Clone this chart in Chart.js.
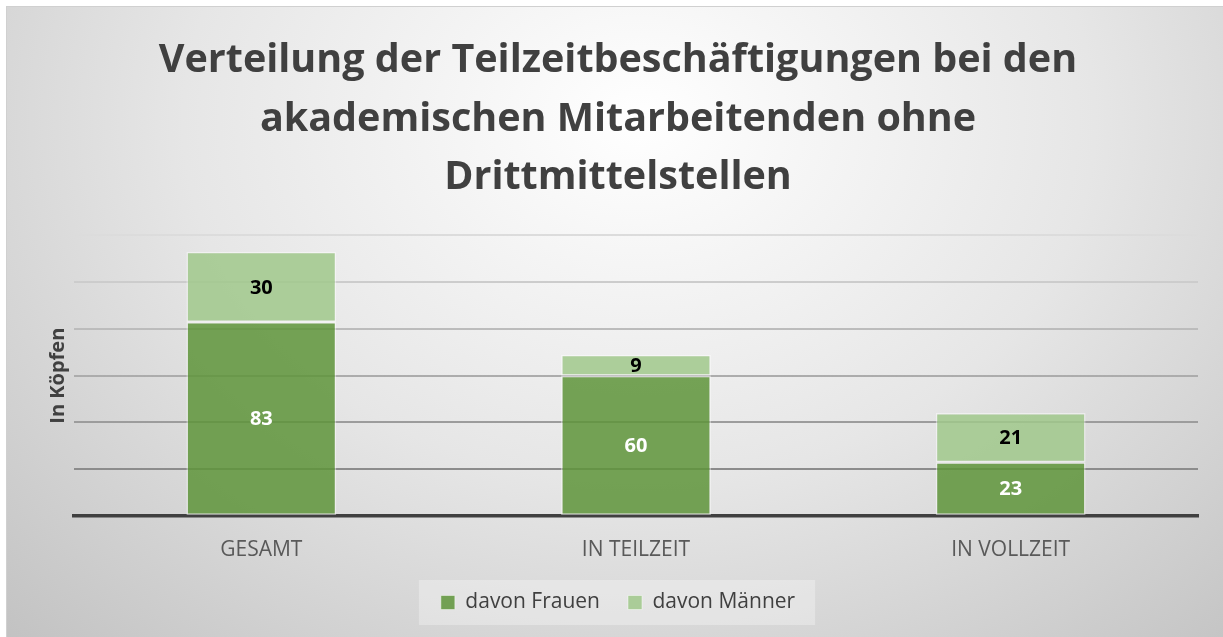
<!DOCTYPE html>
<html>
<head>
<meta charset="utf-8">
<script src="https://cdn.jsdelivr.net/npm/chart.js@4.4.1/dist/chart.umd.min.js"></script>
<style>
  html, body { margin: 0; padding: 0; background: #fff; }
  #panel {
    position: absolute; left: 6px; top: 6px; width: 1217px; height: 631px;
    background: radial-gradient(ellipse 75% 115% at 52% 18%, #ffffff 0%, #e6e6e6 50%, #c2c2c2 100%);
    border-top: 1px solid #d0d0d0; border-left: 1px solid #d0d0d0;
    box-sizing: border-box;
  }
  canvas { display: block; }
</style>
</head>
<body>
<div id="panel"><canvas id="chart" width="1216" height="630"></canvas></div>
<script>
// data
const categories = ['GESAMT', 'IN TEILZEIT', 'IN VOLLZEIT'];
const frauen = [83, 60, 23];
const maenner = [30, 9, 21];
const seriesNames = ['davon Frauen', 'davon Männer'];
const titleLines = ['Verteilung der Teilzeitbeschäftigungen bei den', 'akademischen Mitarbeitenden ohne', 'Drittmittelstellen'];
const yTitle = 'In Köpfen';

const FONT = "'Open Sans', 'DejaVu Sans', sans-serif";
const TEXT = '#404040';

// values in the middle of each segment
const segmentLabels = {
    id: 'segmentLabels',
    afterDatasetsDraw(chart) {
        const ctx = chart.ctx;
        ctx.save();
        ctx.font = 'bold 20px ' + FONT;
        ctx.textAlign = 'center';
        ctx.textBaseline = 'middle';
        chart.data.datasets.forEach((ds, i) => {
            const meta = chart.getDatasetMeta(i);
            meta.data.forEach((bar, j) => {
                ctx.fillStyle = i === 0 ? '#ffffff' : '#000000';
                ctx.fillText(ds.data[j], bar.x, (bar.y + bar.base) / 2 + 1);
            });
        });
        ctx.restore();
    }
};

// light box behind the legend
const legendBox = {
    id: 'legendBox',
    beforeDraw(chart) {
        const boxes = chart.legend && chart.legend.legendHitBoxes;
        if (!boxes || !boxes.length) return;
        const left = Math.min(...boxes.map(b => b.left)) - 22;
        const right = Math.max(...boxes.map(b => b.left + b.width)) + 20;
        const top = Math.min(...boxes.map(b => b.top)) - 12;
        const bottom = Math.max(...boxes.map(b => b.top + b.height)) + 12;
        const ctx = chart.ctx;
        ctx.save();
        ctx.fillStyle = 'rgba(255,255,255,0.3)';
        ctx.fillRect(left, top, right - left, bottom - top);
        ctx.restore();
    }
};

new Chart(document.getElementById('chart'), {
    type: 'bar',
    data: {
        labels: categories,
        datasets: [{
            label: seriesNames[0],
            data: frauen,
            backgroundColor: 'rgba(94,148,57,0.85)',
            borderColor: 'rgba(255,255,255,0.45)',
            borderWidth: 1.5,
            borderSkipped: false,
            categoryPercentage: 0.4,
            barPercentage: 1.0
        }, {
            label: seriesNames[1],
            data: maenner,
            backgroundColor: 'rgba(160,200,139,0.85)',
            borderColor: 'rgba(255,255,255,0.45)',
            borderWidth: 1.5,
            borderSkipped: false,
            categoryPercentage: 0.4,
            barPercentage: 1.0
        }]
    },
    options: {
        responsive: false,
        animation: false,
        layout: { padding: { left: 31, right: 25, top: 0, bottom: 14 } },
        plugins: {
            title: {
                display: true,
                text: titleLines,
                color: TEXT,
                font: { family: FONT, size: 39.5, weight: 'bold', lineHeight: 1.48 },
                padding: { top: 25, bottom: 28 }
            },
            legend: {
                position: 'bottom',
                labels: {
                    color: TEXT,
                    font: { family: FONT, size: 21 },
                    boxWidth: 14,
                    boxHeight: 14,
                    padding: 28,
                    generateLabels(chart) {
                        return chart.data.datasets.map((ds, i) => ({
                            text: ds.label,
                            fillStyle: ds.backgroundColor,
                            strokeStyle: 'rgba(255,255,255,0.45)',
                            lineWidth: 1,
                            datasetIndex: i,
                            fontColor: TEXT
                        }));
                    }
                }
            },
            tooltip: { enabled: false }
        },
        scales: {
            x: {
                stacked: true,
                grid: { display: false, drawTicks: false },
                border: { display: true, color: '#404040', width: 3.5 },
                ticks: { color: '#595959', font: { family: FONT, size: 21 }, padding: 21 },
                afterFit(scale) { scale.height = 48; }
            },
            y: {
                stacked: true,
                min: 0,
                max: 120,
                ticks: { display: false, stepSize: 20 },
                border: { display: false },
                grid: {
                    drawTicks: false,
                    lineWidth: 2,
                    color(c) {
                        const area = c.chart.chartArea;
                        if (!area) return '#a0a0a0';
                        const g = c.chart.ctx.createLinearGradient(0, area.top, 0, area.bottom);
                        g.addColorStop(0, '#dcdcdc');
                        g.addColorStop(1, '#7c7c7c');
                        return g;
                    }
                },
                title: {
                    display: true,
                    text: yTitle,
                    color: TEXT,
                    font: { family: FONT, size: 20, weight: 'bold' },
                    padding: { top: 8, bottom: 0 }
                },
                afterFit(scale) { scale.width = 36; }
            }
        }
    },
    plugins: [legendBox, segmentLabels]
});
</script>
</body>
</html>
